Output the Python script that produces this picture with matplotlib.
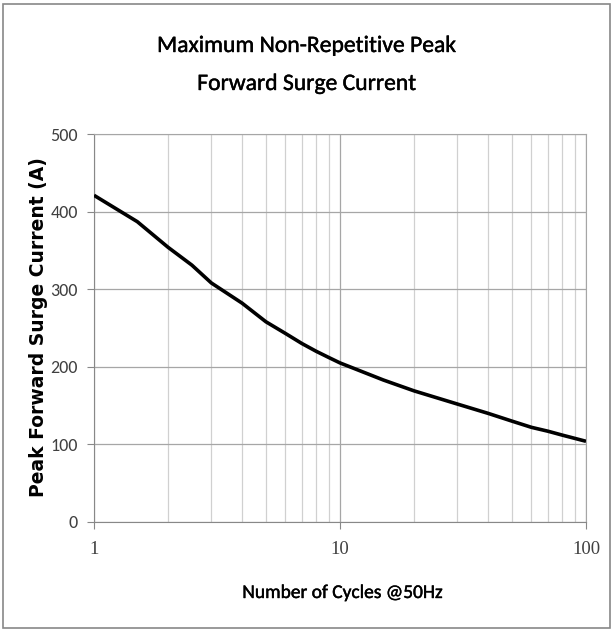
import matplotlib
matplotlib.use('Agg')
import matplotlib.pyplot as plt
import matplotlib.patheffects as pe
from matplotlib.patches import Rectangle
from matplotlib.ticker import FixedLocator, NullFormatter

# data
cycles = [1, 1.5, 2, 2.5, 3, 4, 5, 6, 7, 8, 9, 10, 15, 20, 30, 40, 50, 60, 70, 80, 100]
current = [421, 387, 354, 331, 308, 282, 258, 243, 230, 220, 212, 205, 183, 169, 152, 140, 130, 122, 117, 112, 104]
x_ticks = [1, 10, 100]
x_tick_labels = ['1', '10', '100']
y_ticks = [0, 100, 200, 300, 400, 500]

title_lines = ['Maximum Non-Repetitive Peak', 'Forward Surge Current']
x_label = 'Number of Cycles @50Hz'
y_label = 'Peak Forward Surge Current (A)'

SANS = ['Carlito', 'Liberation Sans']
SERIF = 'Liberation Serif'
W, H = 614, 631
heavy = [pe.withStroke(linewidth=0.3, foreground='black')]

fig = plt.figure(figsize=(W / 100, H / 100), dpi=100)
ax = fig.add_axes([94 / W, 1 - 522 / H, 492 / W, 388 / H])

ax.plot(cycles, current, color='black', lw=2.6, solid_joinstyle='round',
        solid_capstyle='butt', zorder=3)

ax.set_xscale('log')
ax.set_xlim(1, 100)
ax.set_ylim(0, 500)
ax.set_yticks(y_ticks)
ax.xaxis.set_major_locator(FixedLocator(x_ticks))
ax.xaxis.set_minor_locator(FixedLocator([m * d for d in (1, 10) for m in range(2, 10)]))
ax.xaxis.set_minor_formatter(NullFormatter())
ax.set_xticklabels(x_tick_labels, family=SERIF, fontsize=13.5, color='#404040')
for t in ax.get_yticklabels():
    t.set_family(SANS)
    t.set_fontsize(13)
    t.set_color('#404040')

ax.grid(which='major', color='#a6a6a6', lw=0.9)
ax.grid(which='minor', axis='x', color='#d0d0d0', lw=0.9)
ax.tick_params(axis='x', which='major', direction='out', length=5, color='#888888', pad=9)
ax.tick_params(axis='x', which='minor', length=0)
ax.tick_params(axis='y', direction='out', length=5, color='#888888', pad=6.5)
for s in ax.spines.values():
    s.set_color('#a6a6a6')
ax.spines['left'].set_color('#888888')
ax.spines['bottom'].set_color('#888888')

# title: two lines centred on the chart area
fig.text(307 / W, 1 - 52 / H, title_lines[0], ha='center', va='baseline',
         family=SANS, fontsize=17, color='black', path_effects=heavy)
fig.text(307 / W, 1 - 90 / H, title_lines[1], ha='center', va='baseline',
         family=SANS, fontsize=17, color='black', path_effects=heavy)
fig.text(343 / W, 1 - 598 / H, x_label, ha='center', va='baseline',
         family=SANS, fontsize=14, color='black', path_effects=heavy)
fig.text(39 / W, 1 - 327 / H, y_label, rotation=90, ha='center', va='center',
         family='DejaVu Sans', fontweight='bold', fontsize=13.5)

fig.patches.append(Rectangle((3 / W, 3 / H), 607 / W, 624 / H, transform=fig.transFigure,
                             fill=False, edgecolor='#888888', lw=1.2))

fig.savefig('out.png', dpi=100)
